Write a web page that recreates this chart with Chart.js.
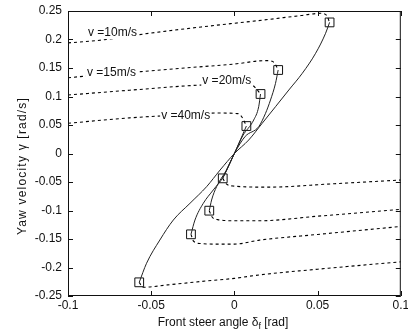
<!DOCTYPE html>
<html>
<head>
<meta charset="utf-8">
<script src="https://cdn.jsdelivr.net/npm/chart.js@4"></script>
<style>
  html, body { margin: 0; padding: 0; background: #fff; }
</style>
</head>
<body>
<canvas id="graphic" width="408" height="336"></canvas>
<script>
const xTicks = [-0.1, -0.05, 0, 0.05, 0.1]
const yTicks = [-0.25, -0.2, -0.15, -0.1, -0.05, 0, 0.05, 0.1, 0.15, 0.2, 0.25]

// square markers (ends of the steady state curves)
const markerX = [0.0572, 0.0263, 0.0157, 0.0072, -0.007, -0.0151, -0.0261, -0.0572]
const markerY = [0.23, 0.1465, 0.1044, 0.0482, -0.0436, -0.1003, -0.1418, -0.226]

// solid curves, through the origin
const solid10X = [-0.0572, -0.0528, -0.0448, -0.0367, -0.0267, -0.0167, -0.0086, 0, 0.0086, 0.0167, 0.0247, 0.0327, 0.0408, 0.0488, 0.0548, 0.0572]
const solid10Y = [-0.226, -0.1926, -0.1518, -0.1167, -0.0874, -0.0582, -0.029, 0, 0.0237, 0.053, 0.0821, 0.1114, 0.1407, 0.1758, 0.2109, 0.23]
const solid15X = [-0.0261, -0.0237, -0.0187, -0.0127, -0.0066, 0, 0.0065, 0.0146, 0.0187, 0.0217, 0.0247, 0.0263]
const solid15Y = [-0.1418, -0.1167, -0.0874, -0.064, -0.0407, 0, 0.03, 0.047, 0.0705, 0.0939, 0.1231, 0.1465]
const solid20X = [-0.0151, -0.0137, -0.0107, -0.005, 0, 0.005, 0.0116, 0.0146, 0.0157]
const solid20Y = [-0.1003, -0.0816, -0.0582, -0.03, 0, 0.031, 0.0588, 0.0821, 0.1044]
const solid40X = [-0.007, 0, 0.0072]
const solid40Y = [-0.0436, 0, 0.0482]

// dotted curves, upper half (run to the left edge)
const up10X = [-0.1, -0.08, -0.051, -0.02, 0.017, 0.04, 0.052, 0.0555, 0.0572]
const up10Y = [0.194, 0.199, 0.211, 0.222, 0.234, 0.242, 0.246, 0.242, 0.23]
const up15X = [-0.1, -0.08, -0.057, -0.03, 0, 0.019, 0.0227, 0.0245, 0.0263]
const up15Y = [0.133, 0.138, 0.1435, 0.15, 0.157, 0.163, 0.1618, 0.157, 0.1465]
const up20X = [-0.1, -0.063, -0.021, 0.006, 0.0107, 0.013, 0.0157]
const up20Y = [0.1026, 0.111, 0.12, 0.122, 0.12, 0.114, 0.1044]
const up40X = [-0.1, -0.063, -0.03, -0.011, 0.002, 0.0045, 0.0072]
const up40Y = [0.053, 0.0625, 0.068, 0.071, 0.07, 0.064, 0.0482]

// dotted curves, lower half (run to the right edge)
const low10X = [-0.0572, -0.055, -0.04, -0.02, 0, 0.015, 0.05, 0.1]
const low10Y = [-0.226, -0.2347, -0.2305, -0.2245, -0.219, -0.213, -0.203, -0.19]
const low15X = [-0.0261, -0.0245, -0.02, -0.01, 0, 0.015, 0.05, 0.1]
const low15Y = [-0.1418, -0.154, -0.158, -0.159, -0.159, -0.152, -0.142, -0.128]
const low20X = [-0.0151, -0.0135, -0.01, 0, 0.015, 0.05, 0.1]
const low20Y = [-0.1003, -0.111, -0.116, -0.118, -0.118, -0.11, -0.098]
const low40X = [-0.007, -0.005, -0.001, 0.02, 0.06, 0.1]
const low40Y = [-0.0436, -0.053, -0.057, -0.059, -0.053, -0.0465]

const speedLabels = ["v =10m/s", "v =15m/s", "v =20m/s", "v =40m/s"]
const labelX = [-0.088, -0.0886, -0.0193, -0.044]
const labelY = [0.206, 0.136, 0.122, 0.0605]

const FONT = '"Liberation Sans", Arial, sans-serif'
const INK = "#111"

const pts = (xs, ys) => xs.map((v, i) => ({ x: v, y: ys[i] }))

const solid = (xs, ys) => ({
  data: pts(xs, ys),
  showLine: true,
  borderColor: "#222",
  borderWidth: 1,
  pointRadius: 0,
  cubicInterpolationMode: "monotone",
})
const dotted = (xs, ys) => ({
  data: pts(xs, ys),
  showLine: true,
  borderColor: "#000",
  borderWidth: 1.1,
  borderDash: [3, 3],
  pointRadius: 0,
  cubicInterpolationMode: "monotone",
})

// frame with inward ticks, speed labels and axis titles
const decor = {
  id: "decor",
  afterDatasetsDraw(chart) {
    const { ctx, chartArea: a, scales: { x, y } } = chart
    ctx.save()
    ctx.font = "12px " + FONT
    ctx.textBaseline = "alphabetic"
    speedLabels.forEach((t, i) => {
      const px = x.getPixelForValue(labelX[i])
      const py = y.getPixelForValue(labelY[i])
      const w = ctx.measureText(t).width
      ctx.fillStyle = "#fff"
      ctx.fillRect(px - 1, py - 10, w + 2, 13)
      ctx.fillStyle = INK
      ctx.fillText(t, px, py)
    })

    ctx.strokeStyle = INK
    ctx.lineWidth = 1
    ctx.strokeRect(a.left + 0.5, a.top + 0.5, a.right - a.left - 1, a.bottom - a.top - 1)
    ctx.beginPath()
    xTicks.forEach(v => {
      const px = Math.round(x.getPixelForValue(v)) + 0.5
      ctx.moveTo(px, a.bottom); ctx.lineTo(px, a.bottom - 5)
      ctx.moveTo(px, a.top); ctx.lineTo(px, a.top + 5)
    })
    yTicks.forEach(v => {
      const py = Math.round(y.getPixelForValue(v)) + 0.5
      ctx.moveTo(a.left, py); ctx.lineTo(a.left + 5, py)
      ctx.moveTo(a.right, py); ctx.lineTo(a.right - 5, py)
    })
    ctx.stroke()

    // x title with subscript
    ctx.fillStyle = INK
    const p1 = "Front steer angle \u03b4", sub = "f", p2 = " [rad]"
    ctx.font = "12px " + FONT
    const w1 = ctx.measureText(p1).width, w3 = ctx.measureText(p2).width
    ctx.font = "9px " + FONT
    const w2 = ctx.measureText(sub).width
    let tx = 223 - (w1 + w2 + w3) / 2
    const ty = 326
    ctx.font = "12px " + FONT
    ctx.fillText(p1, tx, ty)
    ctx.font = "9px " + FONT
    ctx.fillText(sub, tx + w1, ty + 3)
    ctx.font = "12px " + FONT
    ctx.fillText(p2, tx + w1 + w2, ty)

    // y title
    ctx.translate(23, 166)
    ctx.rotate(-Math.PI / 2)
    ctx.textAlign = "center"
    ctx.textBaseline = "middle"
    ctx.letterSpacing = "1.2px"
    ctx.fillText("Yaw velocity \u03b3 [rad/s]", 0, 0)
    ctx.restore()
  }
}

const fmt = v => String(Number(Number(v).toFixed(3)))

new Chart(document.querySelector("#graphic"), {
  type: "scatter",
  data: {
    datasets: [
      solid(solid10X, solid10Y),
      solid(solid15X, solid15Y),
      solid(solid20X, solid20Y),
      solid(solid40X, solid40Y),
      dotted(up10X, up10Y),
      dotted(up15X, up15Y),
      dotted(up20X, up20Y),
      dotted(up40X, up40Y),
      dotted(low10X, low10Y),
      dotted(low15X, low15Y),
      dotted(low20X, low20Y),
      dotted(low40X, low40Y),
      {
        data: pts(markerX, markerY),
        showLine: false,
        pointStyle: "rect",
        pointRadius: 6.2,
        borderColor: INK,
        borderWidth: 1,
        backgroundColor: "rgba(0,0,0,0)",
      },
    ],
  },
  options: {
    responsive: false,
    animation: false,
    layout: { padding: { top: 11, right: 6, left: 0, bottom: 0 } },
    plugins: { legend: { display: false }, tooltip: { enabled: false } },
    scales: {
      x: {
        type: "linear",
        min: -0.1,
        max: 0.1,
        afterBuildTicks: s => { s.ticks = xTicks.map(v => ({ value: v })) },
        afterFit: s => { s.height = 40; s.paddingLeft = 0; s.paddingRight = 0 },
        grid: { display: false, drawTicks: false },
        border: { display: false },
        ticks: { padding: 2, maxRotation: 0, color: INK, font: { family: FONT, size: 12 }, callback: fmt },
      },
      y: {
        type: "linear",
        min: -0.25,
        max: 0.25,
        afterBuildTicks: s => { s.ticks = yTicks.map(v => ({ value: v })) },
        afterFit: s => { s.width = 68; s.paddingTop = 0; s.paddingBottom = 0 },
        grid: { display: false, drawTicks: false },
        border: { display: false },
        ticks: { padding: 6, color: INK, font: { family: FONT, size: 12 }, callback: fmt },
      },
    },
  },
  plugins: [decor],
})
</script>
</body>
</html>
